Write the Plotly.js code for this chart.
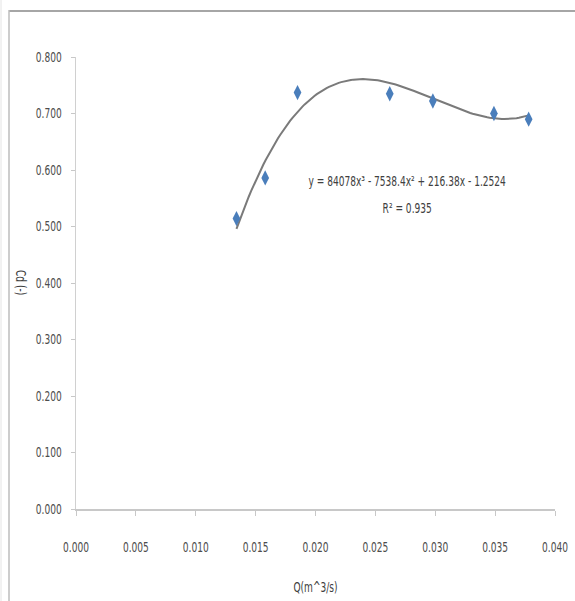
<!DOCTYPE html>
<html>
<head>
<meta charset="utf-8">
<script src="https://cdn.plot.ly/plotly-3.0.1.min.js"></script>
<style>
html,body{margin:0;padding:0;background:#fff;}
#chart{width:575px;height:601px;}
</style>
</head>
<body>
<div id="chart"></div>
<script>
// Data
const flowQ = [0.0134, 0.0158, 0.0185, 0.0262, 0.0298, 0.0349, 0.0378];
const coeff = [0.514, 0.586, 0.737, 0.735, 0.722, 0.700, 0.690];
// Trendline coefficients as printed on the chart (cubic, highest power first)
const trendCoef = [84078, -7538.4, 216.38, -1.2524];
const eqText = "y = 84078x³ - 7538.4x² + 216.38x - 1.2524";
const r2Text = "R² = 0.935";
const xTitle = "Q(m^3/s)";
const yTitle = "Cd (-)";

const FONT = "DejaVu Sans Condensed, Liberation Sans Narrow, Arial Narrow, sans-serif";
const NARROW = 0.72; // horizontal squeeze of the chart's narrow lettering

// Trendline evaluated from the printed polynomial over the data range
const tx = [], ty = [];
const x0 = Math.min(...flowQ), x1 = Math.max(...flowQ);
for (let i = 0; i <= 120; i++) {
  const x = x0 + (x1 - x0) * i / 120;
  ty.push(((trendCoef[0] * x + trendCoef[1]) * x + trendCoef[2]) * x + trendCoef[3]);
  tx.push(x);
}

// plot area pixel geometry (for frame shapes in paper coords)
const L = 76, R = 555, T = 57, B = 509;
const W = 575, H = 601;
const px = v => (v - L) / (R - L);
const py = v => (B - v) / (B - T);

const traces = [
  {x: tx, y: ty, mode: 'lines', type: 'scatter',
   line: {color: '#7a7a7a', width: 2}, hoverinfo: 'skip', showlegend: false},
  {x: flowQ, y: coeff, mode: 'markers', type: 'scatter',
   marker: {symbol: 'diamond-tall', size: 11, color: '#4a7ebb'}, showlegend: false}
];

const layout = {
  width: W, height: H,
  margin: {l: L, r: W - R, t: T, b: H - B},
  paper_bgcolor: '#fff', plot_bgcolor: '#fff',
  showlegend: false,
  font: {family: FONT, size: 14, color: '#4d4d4d'},
  xaxis: {
    range: [0, 0.04], dtick: 0.005, tick0: 0, tickformat: '.3f',
    showgrid: false, zeroline: false, showline: true,
    linecolor: '#c8c8c8', linewidth: 1.5,
    ticks: 'outside', ticklen: 5, tickcolor: '#c8c8c8',
    ticklabelstandoff: 20,
    tickfont: {family: FONT, size: 14, color: '#4d4d4d'},
    title: {text: xTitle, font: {family: FONT, size: 14, color: '#404040'}, standoff: 28}
  },
  yaxis: {
    range: [0, 0.8], dtick: 0.1, tick0: 0, tickformat: '.3f',
    showgrid: false, zeroline: false, showline: true,
    linecolor: '#d0d0d0', linewidth: 1.5,
    ticks: 'outside', ticklen: 4, tickcolor: '#c8c8c8',
    ticklabelstandoff: 6,
    tickfont: {family: FONT, size: 14, color: '#4d4d4d'}
  },
  annotations: [
    {x: 0.0276, y: 0.580, xref: 'x', yref: 'y', text: eqText, showarrow: false,
     font: {family: FONT, size: 14, color: '#404040'}, xanchor: 'center', yanchor: 'middle'},
    {x: 0.0276, y: 0.532, xref: 'x', yref: 'y', text: r2Text, showarrow: false,
     font: {family: FONT, size: 14, color: '#404040'}, xanchor: 'center', yanchor: 'middle'},
    {x: px(21), y: py(282), xref: 'paper', yref: 'paper', text: yTitle, showarrow: false,
     textangle: 90, font: {family: FONT, size: 14, color: '#404040'},
     xanchor: 'center', yanchor: 'middle'}
  ],
  shapes: [
    {type: 'line', xref: 'paper', yref: 'paper', x0: px(9), x1: px(W + 2), y0: py(11), y1: py(11),
     line: {color: '#a6a6a6', width: 2}},
    {type: 'line', xref: 'paper', yref: 'paper', x0: px(9), x1: px(9), y0: py(10), y1: py(H + 2),
     line: {color: '#bdbdbd', width: 1.5}},
    {type: 'line', xref: 'paper', yref: 'paper', x0: px(1), x1: px(1), y0: py(0), y1: py(H),
     line: {color: '#e4e4e4', width: 1}}
  ]
};

function squeeze(el, anchorSide) {
  const bb = el.getBBox();
  if (!bb.width) return;
  let cx = bb.x + bb.width / 2;
  if (anchorSide === 'end') cx = bb.x + bb.width;
  const prev = el.getAttribute('transform') || '';
  el.setAttribute('transform',
    (prev + ' translate(' + cx.toFixed(2) + ',0) scale(' + NARROW + ',1) translate(' + (-cx).toFixed(2) + ',0)').trim());
}

Plotly.newPlot('chart', traces, layout, {displayModeBar: false, staticPlot: true}).then(gd => {
  gd.querySelectorAll('g.xtick text, text.annotation-text, text.xtitle').forEach(el => squeeze(el, 'middle'));
  gd.querySelectorAll('g.ytick text').forEach(el => squeeze(el, 'end'));
});
</script>
</body>
</html>
